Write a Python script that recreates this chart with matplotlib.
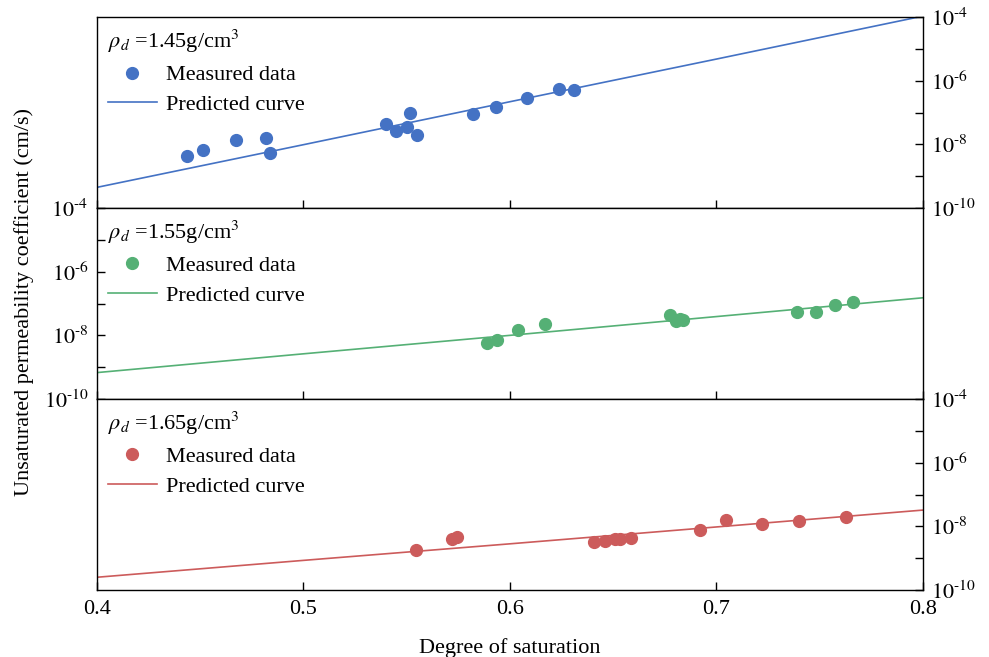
import numpy as np
import matplotlib
matplotlib.use('Agg')
import matplotlib.pyplot as plt
from matplotlib.ticker import FixedLocator, FixedFormatter

plt.rcParams['font.family'] = ['Liberation Serif', 'DejaVu Serif']
plt.rcParams['mathtext.fontset'] = 'stix'
plt.rcParams['font.size'] = 16

# dados medidos (grau de saturacao, log10 da permeabilidade)
sr_145 = [0.4434, 0.4512, 0.4673, 0.4817, 0.4839, 0.5398, 0.5449, 0.5503, 0.5516, 0.5550,
          0.5822, 0.5931, 0.6085, 0.6239, 0.6311]
logk_145 = [-8.375, -8.178, -7.866, -7.803, -8.259, -7.366, -7.584, -7.438, -7.009, -7.709,
            -7.031, -6.819, -6.541, -6.250, -6.303]

sr_155 = [0.5889, 0.5939, 0.6039, 0.6168, 0.6775, 0.6804, 0.6823, 0.6838, 0.7391, 0.7483,
          0.7574, 0.7662]
logk_155 = [-8.231, -8.159, -7.821, -7.641, -7.369, -7.546, -7.473, -7.514, -7.262, -7.262,
            -7.041, -6.946]

sr_165 = [0.5545, 0.5722, 0.5745, 0.6408, 0.6460, 0.6510, 0.6533, 0.6587, 0.6919, 0.7046,
          0.7222, 0.7400, 0.7628]
logk_165 = [-8.753, -8.389, -8.336, -8.502, -8.452, -8.398, -8.389, -8.358, -8.116, -7.811,
            -7.918, -7.823, -7.698]

# curvas previstas
sr_curve = [0.4, 0.5, 0.6, 0.7, 0.8]
curve_145 = [-9.35, -8.01, -6.66, -5.32, -3.97]
curve_155 = [-9.17, -8.58, -8.00, -7.41, -6.82]
curve_165 = [-9.60, -9.07, -8.55, -8.02, -7.49]

densidades = ['1.45', '1.55', '1.65']
cores = ['#4472c4', '#55b075', '#cc5b5b']
lados = ['right', 'left', 'right']
rotulos_y = [r'$10^{\text{-}10}$', r'$10^{\text{-}8}$', r'$10^{\text{-}6}$', r'$10^{\text{-}4}$']

fig, axes = plt.subplots(3, 1, sharex=True, figsize=(9.89, 6.57), dpi=100)
fig.subplots_adjust(left=0.098, right=0.933, top=0.974, bottom=0.102, hspace=0)

dados = [(sr_145, logk_145, curve_145), (sr_155, logk_155, curve_155), (sr_165, logk_165, curve_165)]

for ax, (sr, logk, curva), rho, cor, lado in zip(axes, dados, densidades, cores, lados):
    ax.plot(sr_curve, 10.0 ** np.array(curva), color=cor, lw=1.2, label='Predicted curve', zorder=2)
    ax.plot(sr, 10.0 ** np.array(logk), 'o', color=cor, ms=8.5, label='Measured data', zorder=3)
    ax.set_yscale('log')
    ax.set_ylim(1e-10, 1e-4)
    ax.set_xlim(0.4, 0.8)
    ax.yaxis.set_major_locator(FixedLocator([1e-10, 1e-8, 1e-6, 1e-4]))
    ax.yaxis.set_major_formatter(FixedFormatter(rotulos_y))
    ax.yaxis.set_minor_locator(FixedLocator([1e-9, 1e-7, 1e-5]))
    ax.yaxis.set_minor_formatter(FixedFormatter(['', '', '']))
    if lado == 'right':
        ax.yaxis.tick_right()
    else:
        ax.yaxis.tick_left()
    ax.tick_params(axis='y', which='major', direction='in', length=6, width=1, pad=6)
    ax.tick_params(axis='y', which='minor', direction='in', length=6, width=1)
    ax.tick_params(axis='x', which='major', direction='in', length=6, width=1, pad=7)
    ax.set_xticks([0.4, 0.5, 0.6, 0.7, 0.8])
    handles, labels = ax.get_legend_handles_labels()
    leg = ax.legend(handles[::-1], labels[::-1], loc='upper left', frameon=False,
                    title=r'$\rho_d$ =' + rho + 'g/cm$^3$', alignment='left',
                    fontsize=16, title_fontsize=16, handlelength=2.2,
                    borderaxespad=0.2, borderpad=0.3, labelspacing=0.42, handletextpad=0.4)
    for sp in ax.spines.values():
        sp.set_linewidth(1)

axes[2].set_xticklabels(['0.4', '0.5', '0.6', '0.7', '0.8'])
axes[2].set_xlabel('Degree of saturation', labelpad=14)
fig.text(0.024, 0.54, 'Unsaturated permeability coefficient (cm/s)', rotation=90,
         ha='center', va='center', fontsize=16)

plt.savefig('out.png', dpi=100)
